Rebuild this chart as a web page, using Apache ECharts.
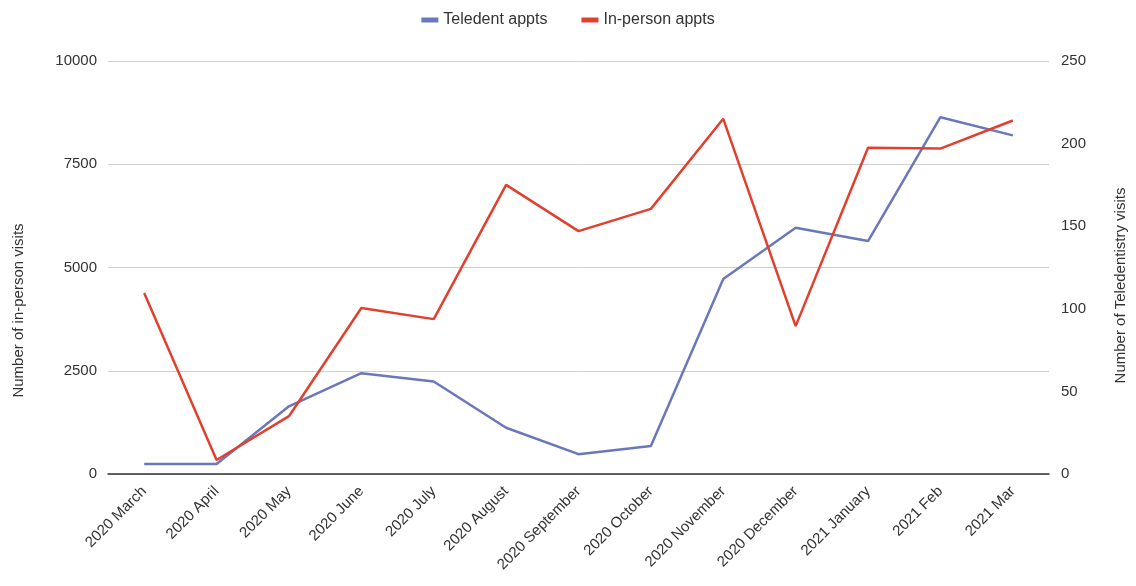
<!DOCTYPE html>
<html>
<head>
<meta charset="utf-8">
<script src="https://cdn.jsdelivr.net/npm/echarts@6/dist/echarts.min.js"></script>
<style>
html, body { margin: 0; padding: 0; background: #fff; }
#main { width: 1136px; height: 586px; }
</style>
</head>
<body>
<div id="main"></div>
<script>
var months = ['2020 March', '2020 April', '2020 May', '2020 June', '2020 July', '2020 August',
    '2020 September', '2020 October', '2020 November', '2020 December', '2021 January', '2021 Feb', '2021 Mar'];
// teledentistry visits (right axis)
var teledent = [6, 6, 41, 61, 56, 28, 12, 17, 118, 149, 141, 216, 205];
// in-person visits (left axis)
var inPerson = [4380, 340, 1400, 4020, 3750, 7000, 5880, 6420, 8600, 3580, 7900, 7880, 8560];

var myChart = echarts.init(document.getElementById('main'));

var labelFont = { color: '#333', fontSize: 15, fontFamily: 'Liberation Sans' };

var option = {
    animation: false,
    textStyle: { fontFamily: 'Liberation Sans' },
    legend: {
        top: 7,
        left: 'center',
        itemWidth: 17,
        itemHeight: 5,
        itemGap: 34,
        icon: 'rect',
        textStyle: { color: '#333', fontSize: 16, fontFamily: 'Liberation Sans' },
        data: ['Teledent appts', 'In-person appts']
    },
    grid: {
        left: 108,
        right: 86,
        top: 61,
        bottom: 112
    },
    xAxis: {
        type: 'category',
        data: months,
        boundaryGap: true,
        axisLine: { lineStyle: { color: '#333', width: 1.5 } },
        axisTick: { show: false },
        axisLabel: Object.assign({ rotate: 45, interval: 0, margin: 15 }, labelFont)
    },
    yAxis: [
        {
            type: 'value',
            min: 0,
            max: 10000,
            interval: 2500,
            name: 'Number of in-person visits',
            nameLocation: 'middle',
            nameGap: 82,
            nameTextStyle: Object.assign({ padding: [0, 86, 0, 0] }, labelFont),
            axisLine: { show: false },
            axisTick: { show: false },
            axisLabel: Object.assign({ margin: 11, formatter: function (v) { return String(v); } }, labelFont),
            splitLine: { lineStyle: { color: '#cfcfcf' } }
        },
        {
            type: 'value',
            min: 0,
            max: 250,
            interval: 50,
            name: 'Number of Teledentistry visits',
            nameLocation: 'middle',
            nameGap: 64,
            nameRotate: 90,
            nameTextStyle: Object.assign({ padding: [0, 36, 0, 0] }, labelFont),
            axisLine: { show: false },
            axisTick: { show: false },
            axisLabel: Object.assign({ margin: 12 }, labelFont),
            splitLine: { show: false }
        }
    ],
    series: [
        {
            name: 'Teledent appts',
            type: 'line',
            yAxisIndex: 1,
            data: teledent,
            symbol: 'none',
            itemStyle: { color: '#6a78b9' },
            lineStyle: { color: '#6a78b9', width: 2.5 }
        },
        {
            name: 'In-person appts',
            type: 'line',
            yAxisIndex: 0,
            data: inPerson,
            symbol: 'none',
            itemStyle: { color: '#e2402f' },
            lineStyle: { color: '#e2402f', width: 2.5 }
        }
    ]
};

myChart.setOption(option);
</script>
</body>
</html>
